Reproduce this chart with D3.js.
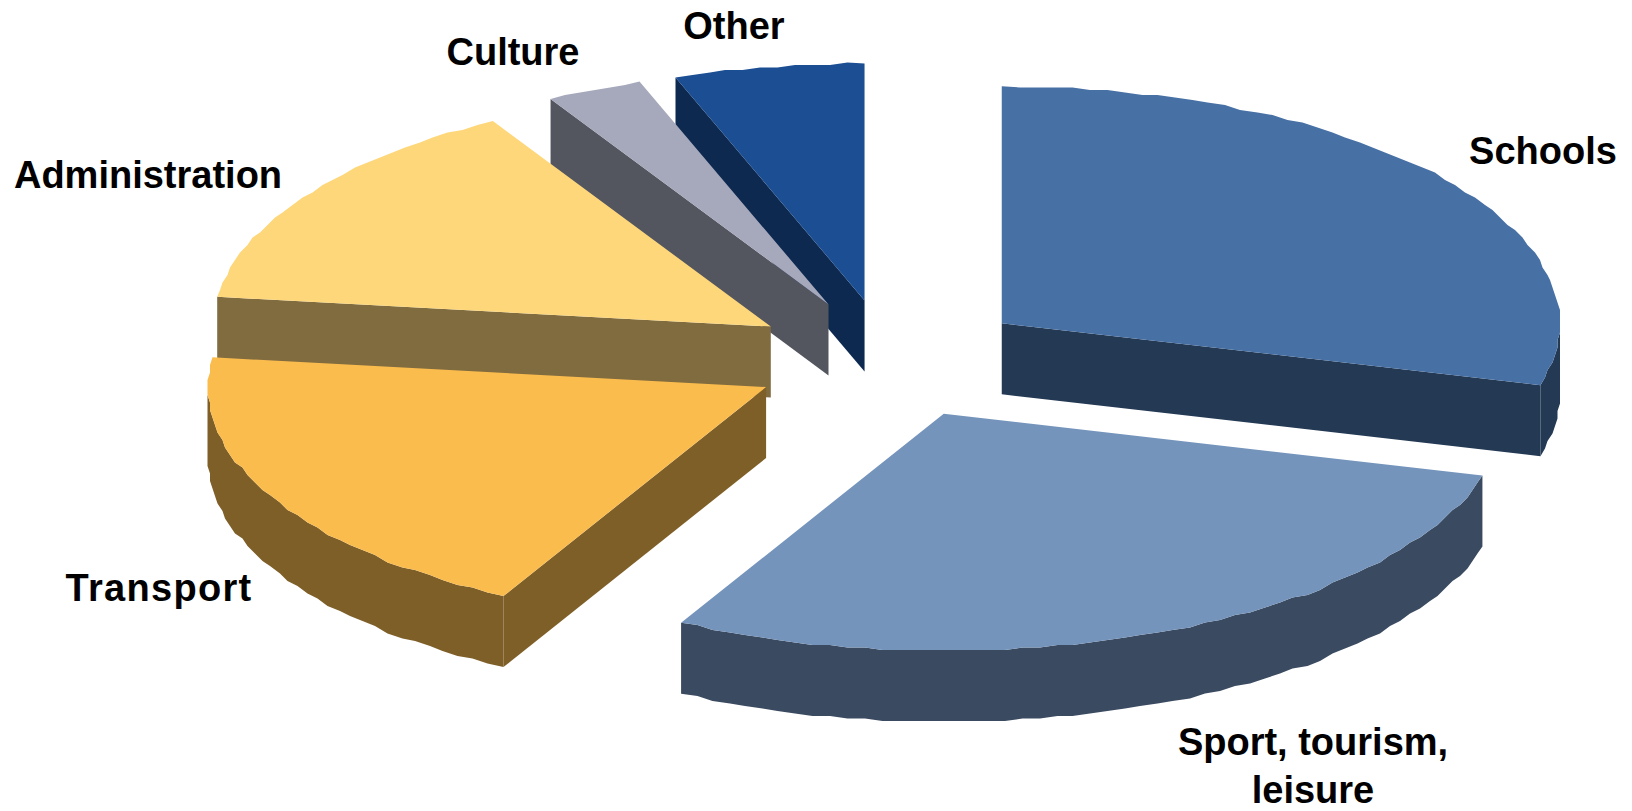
<!DOCTYPE html>
<html>
<head>
<meta charset="utf-8">
<title>Spending by sector</title>
<script src="https://cdn.jsdelivr.net/npm/d3@7"></script>
<style>
  html, body { margin: 0; padding: 0; background: #fff; }
  svg { display: block; }
  text { font-family: "Liberation Sans", Arial, sans-serif; font-weight: 700; font-size: 38px; fill: #000; }
</style>
</head>
<body>
<svg id="chart" width="1632" height="811"></svg>
<script>
// Sector shares, clockwise from twelve o'clock
const categories = ["Schools", "Sport, tourism, leisure", "Transport", "Administration", "Culture", "Other"];
const shares = [29.2, 28.6, 19.2, 14.7, 2.8, 5.5];
const explosions = [0.2545, 0.247, 0.248, 0.2545, 0.258, 0.255];
const topColors = ["#4770A5", "#7494BC", "#FBBC4E", "#FED77A", "#A6A9BC", "#1B4E93"];
const sideColors = ["#233954", "#3A4A60", "#7F5F28", "#816C40", "#53565F", "#0E2950"];
const labelLines = [["Schools"], ["Sport, tourism,", "leisure"], ["Transport"], ["Administration"], ["Culture"], ["Other"]];
const labelAnchors = [[1543, 164], [1313, 755], [159, 601], [148, 188], [513, 65], [734, 39]];
const labelTracking = [0, 0, 1.3, 0, 0, 0];

// Tilted pie geometry
const centre = { x: 889, y: 360 };
const radius = { x: 558, y: 237 };
const depth = 71;
const lineHeight = 48;
const snap = 2.5;     // outlines sit on a coarse grid, which gives the rim its stepped edge
const stepAngle = 1.8 * Math.PI / 180;

const sx = d3.scaleLinear().domain([-1, 1]).range([centre.x - radius.x, centre.x + radius.x]);
const sy = d3.scaleLinear().domain([-1, 1]).range([centre.y - radius.y, centre.y + radius.y]);

const pie = d3.pie().sort(null).value(d => d);
const arcs = pie(shares);
const line = d3.line();
const svg = d3.select("#chart");

// Point on the ellipse at angle a, offset by the slice's explosion
function rimPoint(a, offset) {
  return [sx(Math.sin(a)) + offset[0], sy(-Math.cos(a)) + offset[1]];
}

// Samples the arc from a0 to a1 as {a, p}, snapping the inner vertices to the grid
function rimSamples(a0, a1, offset) {
  const n = Math.max(1, Math.round((a1 - a0) / stepAngle));
  return d3.range(n + 1).map(i => {
    const a = a0 + (a1 - a0) * i / n;
    const p = rimPoint(a, offset);
    return {
      a,
      p: (i === 0 || i === n) ? p : [Math.round(p[0] / snap) * snap, Math.round(p[1] / snap) * snap]
    };
  });
}

const lower = pts => pts.map(p => [p[0], p[1] + depth]).reverse();

// Back slices first, so the front ones overlap them
const drawOrder = [5, 4, 3, 2, 1, 0];
drawOrder.forEach(i => {
  const d = arcs[i];
  const mid = (d.startAngle + d.endAngle) / 2;
  const offset = [
    sx(Math.sin(mid) * explosions[i]) - centre.x,
    sy(-Math.cos(mid) * explosions[i]) - centre.y
  ];
  const apex = [centre.x + offset[0], centre.y + offset[1]];
  const samples = rimSamples(d.startAngle, d.endAngle, offset);
  const g = svg.append("g").attr("class", "slice").attr("data-name", categories[i]);
  const wall = pts => g.append("path")
    .attr("d", line(pts.concat(lower(pts))) + "Z")
    .attr("fill", sideColors[i]);

  // Cut faces turned towards the viewer
  if (Math.sin(d.startAngle) < -1e-6) wall([apex, rimPoint(d.startAngle, offset)]);
  if (Math.sin(d.endAngle) > 1e-6) wall([apex, rimPoint(d.endAngle, offset)]);

  // Outer rim on the near half of the ellipse, sharing the top face's vertices
  const near = samples.filter(s => s.a >= Math.PI / 2 && s.a <= 3 * Math.PI / 2).map(s => s.p);
  if (near.length > 1) wall(near);

  // Top face
  g.append("path")
    .attr("d", line([apex].concat(samples.map(s => s.p))) + "Z")
    .attr("fill", topColors[i]);
});

// Category labels
labelLines.forEach((lines, i) => {
  const t = svg.append("text")
    .attr("text-anchor", "middle")
    .style("letter-spacing", labelTracking[i] + "px");
  lines.forEach((s, k) => {
    t.append("tspan")
      .attr("x", labelAnchors[i][0])
      .attr("y", labelAnchors[i][1] + k * lineHeight)
      .text(s);
  });
});
</script>
</body>
</html>
